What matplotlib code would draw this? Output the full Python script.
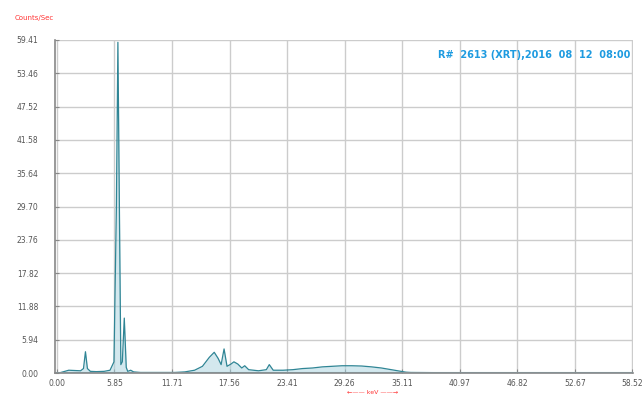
import matplotlib.pyplot as plt
import numpy as np

# spectrum read-out: energy (keV) vs counts per second
energy = [0.0, 0.3, 0.8, 1.2, 1.8, 2.4, 2.7, 2.9, 3.1, 3.4, 4.0, 4.8, 5.4, 5.8,
          6.05, 6.2, 6.35, 6.5, 6.65, 6.85, 7.05, 7.2, 7.5, 7.8, 8.5, 10.0, 12.0,
          13.0, 14.0, 14.8, 15.5, 16.0, 16.4, 16.7, 17.0, 17.3, 17.7, 18.0,
          18.4, 18.8, 19.1, 19.5, 20.5, 21.3, 21.6, 22.0, 23.0, 24.0, 25.0,
          26.0, 27.0, 28.0, 29.0, 30.0, 31.0, 32.0, 33.0, 34.0, 35.0, 35.5,
          36.0, 40.0, 58.52]
counts = [0.0, 0.05, 0.3, 0.5, 0.45, 0.4, 0.8, 3.8, 0.8, 0.3, 0.25, 0.3, 0.5, 2.0,
          30.0, 59.0, 30.0, 1.5, 2.0, 9.8, 1.0, 0.3, 0.5, 0.2, 0.1, 0.1, 0.1,
          0.2, 0.5, 1.2, 2.8, 3.7, 2.6, 1.5, 4.3, 1.2, 1.6, 2.0,
          1.6, 0.9, 1.3, 0.6, 0.4, 0.6, 1.5, 0.5, 0.5, 0.6, 0.8,
          0.9, 1.1, 1.2, 1.3, 1.3, 1.25, 1.1, 0.9, 0.6, 0.3, 0.15,
          0.1, 0.05, 0.05]

xticks = [0.00, 5.85, 11.71, 17.56, 23.41, 29.26, 35.11, 40.97, 46.82, 52.67, 58.52]
yticks = [0.00, 5.94, 11.88, 17.82, 23.76, 29.70, 35.64, 41.58, 47.52, 53.46, 59.41]

fig = plt.figure(figsize=(6.43, 3.96), dpi=100)
ax = fig.add_axes([0.0855, 0.058, 0.899, 0.841])

ax.fill_between(energy, counts, color='#a9d3df', alpha=0.5, lw=0)
ax.plot(energy, counts, color='#2f8595', lw=0.9)
ax.plot(energy, [0.0] * len(energy), color='#7fc3d0', lw=1.5)

ax.set_xlim(-0.2, 58.6)
ax.set_ylim(0, 59.41)
ax.set_xticks(xticks)
ax.set_yticks(yticks)
ax.set_xticklabels([f"{v:.2f}" for v in xticks])
ax.set_yticklabels([f"{v:.2f}" for v in yticks])
ax.tick_params(labelsize=5.5, labelcolor='#555555', length=3, direction='in',
               color='#888888')
ax.tick_params(axis='x', pad=4)
ax.tick_params(axis='y', pad=12)
ax.grid(True, color='#cccccc', lw=1.0)
ax.set_axisbelow(True)
for side in ['top', 'right']:
    ax.spines[side].set_visible(False)
for side in ['left', 'bottom']:
    ax.spines[side].set_color('#888888')
    ax.spines[side].set_linewidth(1.2)

fig.text(0.023, 0.955, 'Counts/Sec', color='#ff3333', fontsize=5, va='center')
ax.text(0.995, 0.955, 'R#  2613 (XRT),2016  08  12  08:00', transform=ax.transAxes,
        color='#1e9be0', fontsize=7, fontweight='semibold', ha='right', va='center')
fig.text(0.58, 0.002, '\u2190\u2014\u2014 keV \u2014\u2014\u2192', color='#ff3333',
         fontsize=4.5, ha='center', va='bottom')

fig.savefig('out.png', dpi=100)
